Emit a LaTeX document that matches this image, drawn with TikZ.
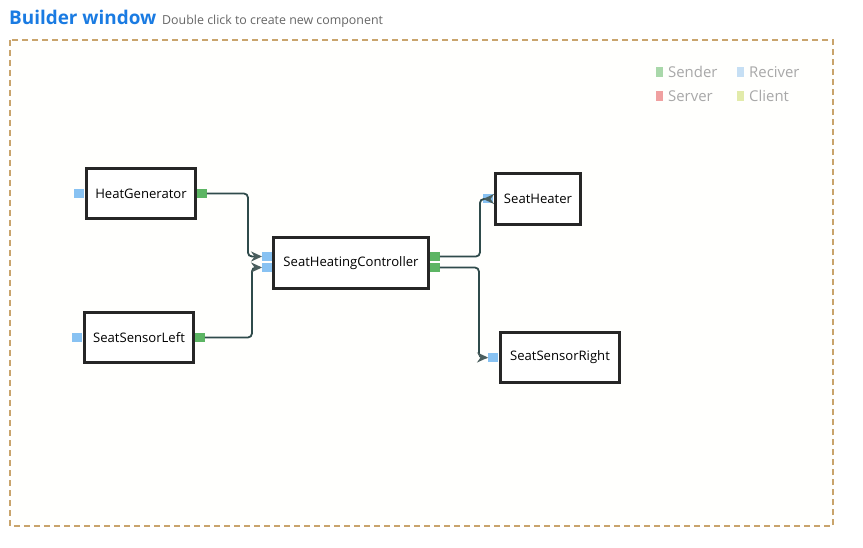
\documentclass[tikz,border=0pt]{standalone}
\usepackage{fontspec}
\setmainfont{Open Sans}
\usetikzlibrary{arrows.meta}
\definecolor{titleblue}{HTML}{1A7BE2}
\definecolor{subgray}{HTML}{666666}
\definecolor{framec}{HTML}{C9A46C}
\definecolor{framefill}{HTML}{FFFFFD}
\definecolor{boxc}{HTML}{262626}
\definecolor{portblue}{HTML}{88C2F2}
\definecolor{portgreen}{HTML}{5CB563}
\definecolor{wirec}{HTML}{2F4B4B}
\definecolor{arrowc}{HTML}{4A5E5E}
\definecolor{leggreen}{HTML}{A9D8AA}
\definecolor{legblue}{HTML}{C6DFF4}
\definecolor{legred}{HTML}{F0A0A0}
\definecolor{legyellow}{HTML}{E2EBAA}
\definecolor{leggray}{HTML}{A8A8A8}
\tikzset{
  comp/.style={draw=boxc, line width=3pt, fill=white, inner sep=0pt, font=\fontsize{13.1}{15}\selectfont},
  inport/.style={fill=portblue, minimum width=9.5pt, minimum height=9pt, inner sep=0pt},
  outport/.style={fill=portgreen, minimum width=9.5pt, minimum height=9pt, inner sep=0pt},
  wire/.style={draw=wirec, line width=1.8pt, rounded corners=4pt, -{Stealth[length=11pt,width=10pt,inset=3.5pt,color=arrowc]}},
  legsq/.style={minimum width=7pt, minimum height=10pt, inner sep=0pt},
  legtext/.style={text=leggray, anchor=base west, inner sep=0pt, font=\fontsize{14.9}{17}\selectfont},
}
\begin{document}
\begin{tikzpicture}[x=1pt,y=-1pt]
\useasboundingbox (0,0) rectangle (863,548);
% frame
\draw[framec, line width=1.8pt, dash pattern=on 6pt off 4pt, fill=framefill] (10,40) rectangle (833,526);
% title
\node[anchor=base west, inner sep=0pt, text=titleblue, font=\fontsize{18.9}{21}\selectfont\bfseries] (title) at (9,25) {Builder window};
\node[anchor=base west, inner sep=0pt, text=subgray, font=\fontsize{12.4}{14}\selectfont] (sub) at (162,25) {Double click to create new component};
% legend
\node[legsq, fill=leggreen] (lg1) at (659.5,72) {};
\node[legtext] (lt1) at (668,77.5) {Sender};
\node[legsq, fill=legblue] (lg2) at (740.5,72) {};
\node[legtext] (lt2) at (749,77.5) {Reciver};
\node[legsq, fill=legred] (lg3) at (659.5,96) {};
\node[legtext] (lt3) at (668,101.5) {Server};
\node[legsq, fill=legyellow] (lg4) at (740.5,96) {};
\node[legtext] (lt4) at (749,101.5) {Client};
% components
\node[comp, minimum width=109pt, minimum height=50pt] (hg) at (141,193.5) {HeatGenerator};
\node[comp, minimum width=109pt, minimum height=50pt] (ssl) at (139,337.5) {SeatSensorLeft};
\node[comp, minimum width=155pt, minimum height=51pt] (ctrl) at (351,263) {SeatHeatingController};
\node[comp, minimum width=85pt, minimum height=51pt] (sh) at (538,199) {SeatHeater};
\node[comp, minimum width=119pt, minimum height=50pt] (ssr) at (560,357.5) {SeatSensorRight};
% ports
\node[inport] (hgin) at (79,193.5) {};
\node[outport] (hgout) at (202,193.5) {};
\node[inport] (sslin) at (77,337.5) {};
\node[outport] (sslout) at (200,337.5) {};
\node[inport] (cin1) at (267,256.5) {};
\node[inport] (cin2) at (267,267.5) {};
\node[outport] (cout1) at (435,256.5) {};
\node[outport] (cout2) at (435,267.5) {};
\node[inport] (shin) at (488,199) {};
\node[inport] (ssrin) at (493,357.5) {};
% wires
\draw[wire] (hgout.east) -- ++(41,0) |- (cin1.west);
\draw[wire] (sslout.east) -- ++(47,0) |- (cin2.west);
\draw[wire] (cout1.east) -- ++(40,0) |- (shin.west);
\draw[wire] (cout2.east) -- ++(39,0) |- (ssrin.west);
\end{tikzpicture}
\end{document}
